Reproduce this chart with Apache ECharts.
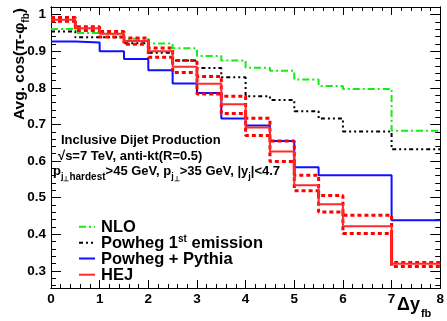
<!DOCTYPE html>
<html><head><meta charset="utf-8">
<script src="https://cdn.jsdelivr.net/npm/echarts@6/dist/echarts.min.js"></script>
<style>html,body{margin:0;padding:0;background:#fff}#c{width:447px;height:321px}</style>
</head><body><div id="c"></div>
<script>
// bin edges (Δy_fb) and bin contents
const binEdges = [0, 0.5, 1, 1.5, 2, 2.5, 3, 3.5, 4, 4.5, 5, 5.5, 6, 7, 8];
const nlo          = [0.961, 0.950, 0.945, 0.934, 0.921, 0.908, 0.887, 0.875, 0.855, 0.847, 0.823, 0.805, 0.797, 0.683];
const powheg1st    = [0.954, 0.938, 0.938, 0.922, 0.896, 0.875, 0.854, 0.829, 0.777, 0.767, 0.736, 0.716, 0.681, 0.632];
const powhegPythia = [0.927, 0.924, 0.900, 0.879, 0.848, 0.812, 0.786, 0.716, 0.697, 0.655, 0.583, 0.561, 0.561, 0.438];
const hej          = [0.986, 0.963, 0.948, 0.928, 0.900, 0.858, 0.811, 0.755, 0.692, 0.626, 0.534, 0.482, 0.422, 0.319];
const hejUp        = [0.992, 0.967, 0.954, 0.936, 0.909, 0.875, 0.831, 0.777, 0.717, 0.655, 0.561, 0.506, 0.452, 0.323];
const hejDown      = [0.982, 0.957, 0.939, 0.919, 0.884, 0.842, 0.783, 0.730, 0.670, 0.599, 0.519, 0.461, 0.402, 0.312];
const legendLabels = ['NLO', 'Powheg 1st emission', 'Powheg + Pythia', 'HEJ'];
const xTickLabels  = [0, 1, 2, 3, 4, 5, 6, 7, 8];
const yTickLabels  = [0.3, 0.4, 0.5, 0.6, 0.7, 0.8, 0.9, 1.0];

const xMinor = []; for (let i = 0; i <= 40; i++) xMinor.push(Math.round(i * 0.2 * 100) / 100);
const yMinor = []; for (let i = 13; i <= 51; i++) yMinor.push(Math.round(i * 0.02 * 100) / 100);

function steps(vals) {
  return binEdges.map((e, i) => [e, vals[Math.min(i, vals.length - 1)]]);
}
const FONT = '"Liberation Sans", Arial, Helvetica, sans-serif';
const X_MIN = 0, X_MAX = 8, Y_MIN = 0.253, Y_MAX = 1.021;

const STY = {
  nlo: { color: '#11ee11', width: 2, dash: [7, 3, 2, 3] },
  p1: { color: '#000000', width: 2, dash: [4, 3, 2, 3, 2, 3] },
  pp: { color: '#1010ff', width: 2, dash: 'solid' },
  band: { color: '#ff0000', width: 3, dash: [4, 3] },
  hej: { color: '#ff2a2a', width: 2, dash: 'solid' }
};

function xAx(pos, ticks, len, labels) {
  return {
    type: 'value', position: pos, min: X_MIN, max: X_MAX,
    axisLine: { show: true, onZero: false, lineStyle: { color: '#000', width: 1 } },
    axisTick: { show: true, inside: true, length: len, customValues: ticks, lineStyle: { color: '#000', width: 1 } },
    axisLabel: labels ? { show: true, customValues: xTickLabels, margin: 4, color: '#000', fontFamily: FONT, fontWeight: 'bold', fontSize: 13.5 } : { show: false },
    splitLine: { show: false }
  };
}
function yAx(pos, ticks, len, labels) {
  return {
    type: 'value', position: pos, min: Y_MIN, max: Y_MAX,
    axisLine: { show: true, onZero: false, lineStyle: { color: '#000', width: 1 } },
    axisTick: { show: true, inside: true, length: len, customValues: ticks, lineStyle: { color: '#000', width: 1 } },
    axisLabel: labels ? { show: true, customValues: yTickLabels, margin: 5, color: '#000', fontFamily: FONT, fontWeight: 'bold', fontSize: 13.5 } : { show: false },
    splitLine: { show: false }
  };
}

function line(name, vals, s, z) {
  return {
    type: 'line', name: name, data: steps(vals), step: 'end', symbol: 'none', showSymbol: false,
    xAxisIndex: 0, yAxisIndex: 0, z: z,
    lineStyle: { color: s.color, width: s.width, type: s.dash, cap: 'butt' },
    itemStyle: { color: s.color }, silent: true, animation: false
  };
}

const chart = echarts.init(document.getElementById('c'), null, { renderer: 'canvas' });
const mainTxt = { fontFamily: FONT, fontWeight: 'bold', fontSize: 13, lineHeight: 14, verticalAlign: 'top', color: '#000' };
const subTxt = { fontFamily: FONT, fontWeight: 'bold', fontSize: 9, lineHeight: 9, padding: [7, 0, 0, 0], verticalAlign: 'top', color: '#000' };

// legend drawn as graphics
const legRows = [226.7, 242.7, 258.5, 274.7];
const legStyles = [STY.nlo, STY.p1, STY.pp, STY.hej];
const legTexts = ['{m|NLO}', '{m|Powheg 1}{sup|st}{m| emission}', '{m|Powheg + Pythia}', '{m|HEJ}'];
const legGraphics = [];
legRows.forEach((yy, i) => {
  const s = legStyles[i];
  legGraphics.push({ type: 'line', silent: true, shape: { x1: 79, y1: yy, x2: 95, y2: yy },
    style: { stroke: s.color, lineWidth: s.width, lineDash: s.dash === 'solid' ? null : s.dash } });
  legGraphics.push({ type: 'text', x: 101, y: yy, silent: true,
    style: { text: legTexts[i], align: 'left', verticalAlign: 'middle',
      rich: {
        m: { fontFamily: FONT, fontWeight: 'bold', fontSize: 16.5, lineHeight: 16, verticalAlign: 'top', color: '#000' },
        sup: { fontFamily: FONT, fontWeight: 'bold', fontSize: 10, lineHeight: 10, verticalAlign: 'top', color: '#000' }
      } } });
});

chart.setOption({
  animation: false,
  backgroundColor: '#fff',
  grid: { left: 51, right: 4, top: 7, bottom: 33, containLabel: false },
  xAxis: [xAx('bottom', xTickLabels, 8, true), xAx('bottom', xMinor, 4, false), xAx('top', xTickLabels, 8, false), xAx('top', xMinor, 4, false)],
  yAxis: [yAx('left', yTickLabels, 10, true), yAx('left', yMinor, 5, false), yAx('right', yTickLabels, 10, false), yAx('right', yMinor, 5, false)],
  series: [
    line(legendLabels[0], nlo, STY.nlo, 2),
    line(legendLabels[1], powheg1st, STY.p1, 3),
    line(legendLabels[2], powhegPythia, STY.pp, 4),
    line('HEJ up', hejUp, STY.band, 5),
    line('HEJ down', hejDown, STY.band, 5),
    line(legendLabels[3], hej, STY.hej, 6)
  ],
  graphic: legGraphics.concat([
    { type: 'text', x: 20.5, y: 120, rotation: Math.PI / 2, silent: true,
      style: { text: '{a|Avg. cos(π-φ}{s|fb}{a|)}', align: 'left', verticalAlign: 'middle',
        rich: {
          a: { fontFamily: FONT, fontWeight: 'bold', fontSize: 15.5, lineHeight: 17, verticalAlign: 'top', color: '#000' },
          s: { fontFamily: FONT, fontWeight: 'bold', fontSize: 10, lineHeight: 10, padding: [9, 0, 0, 0], verticalAlign: 'top', color: '#000' }
        } } },
    { type: 'text', x: 397, y: 296, silent: true,
      style: { text: '{a|Δy}{s|fb}', align: 'left', verticalAlign: 'top',
        rich: {
          a: { fontFamily: FONT, fontWeight: 'bold', fontSize: 18, lineHeight: 18, verticalAlign: 'top', color: '#000' },
          s: { fontFamily: FONT, fontWeight: 'bold', fontSize: 11, lineHeight: 11, padding: [12, 0, 0, 1], verticalAlign: 'top', color: '#000' }
        } } },
    { type: 'text', x: 61, y: 140.5, silent: true,
      style: { text: 'Inclusive Dijet Production', fontFamily: FONT, fontWeight: 'bold', fontSize: 13, fill: '#000', align: 'left', verticalAlign: 'middle' } },
    { type: 'text', x: 58, y: 156, silent: true,
      style: { text: '√s=7 TeV, anti-kt(R=0.5)', fontFamily: FONT, fontWeight: 'bold', fontSize: 13, fill: '#000', align: 'left', verticalAlign: 'middle' } },
    { type: 'text', x: 53, y: 165, silent: true,
      style: { text: '{m|p}{s|j}{u|⊥}{h|hardest}{m|>45 GeV, p}{s|j}{u|⊥}{m|>35 GeV, |y}{s|j}{m||<4.7}', align: 'left', verticalAlign: 'top',
        rich: {
          m: mainTxt, s: subTxt,
          u: { fontFamily: FONT, fontWeight: 'bold', fontSize: 7, lineHeight: 7, padding: [11, 0, 0, 0], verticalAlign: 'top', color: '#000' },
          h: { fontFamily: FONT, fontWeight: 'bold', fontSize: 10, lineHeight: 10, padding: [7, 0, 0, 0], verticalAlign: 'top', color: '#000' }
        } } }
  ])
});
</script>
</body></html>
